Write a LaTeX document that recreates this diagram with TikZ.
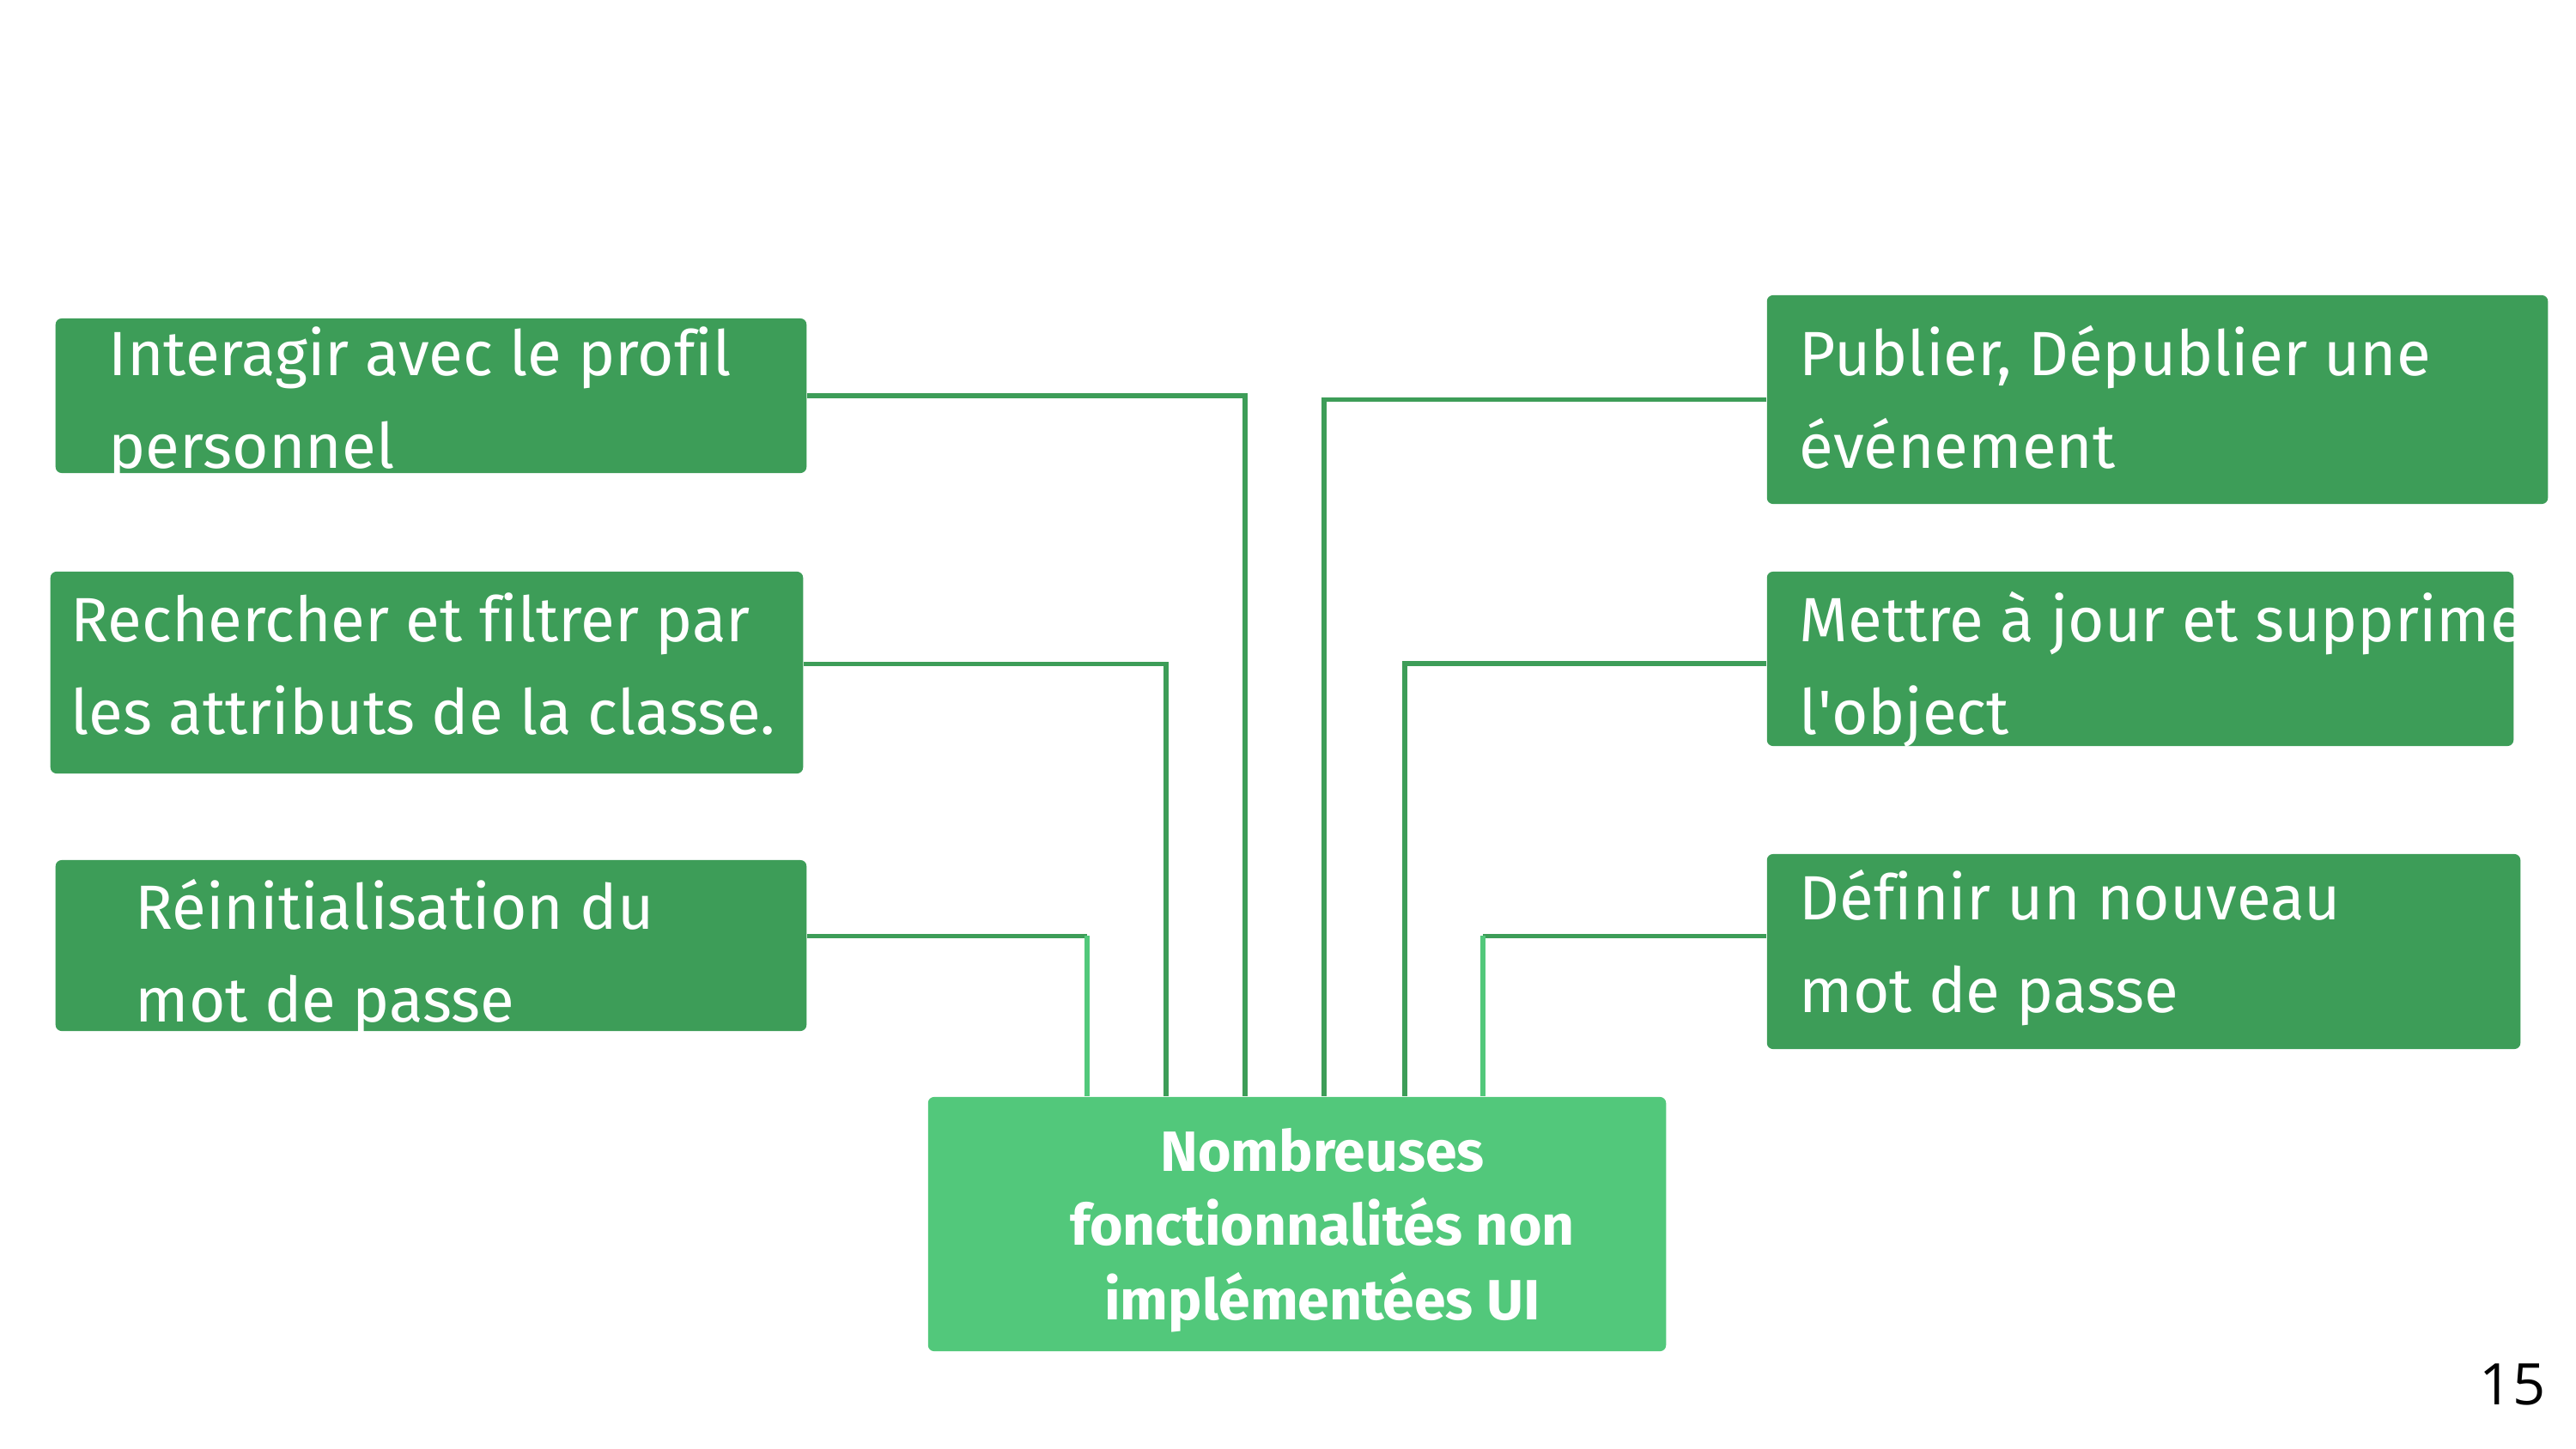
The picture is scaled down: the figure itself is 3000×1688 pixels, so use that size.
\documentclass[tikz,border=0pt]{standalone}
\usepackage{fontspec}
\setmainfont[Ligatures=NoCommon]{Fira Sans}
\newfontfamily\numfont{Open Sans}
\definecolor{darkg}{RGB}{61,157,88}
\definecolor{lightg}{RGB}{82,200,123}
\begin{document}
\begin{tikzpicture}[x=0.01cm,y=-0.01cm,
  boxd/.style={fill=darkg,draw=none,rounded corners=2pt,inner sep=0pt},
  boxl/.style={fill=lightg,draw=none,rounded corners=2pt,inner sep=0pt},
  lbl/.style={text=white,inner sep=0pt,anchor=base west,align=left,font=\fontsize{20.7}{30.5}\selectfont},
  clbl/.style={text=white,inner sep=0pt,anchor=base,align=center,font=\bfseries\fontsize{18.8}{24.5}\selectfont},
  conn/.style={draw=darkg,line width=1.5pt},
  connl/.style={draw=lightg,line width=1.5pt}]
\useasboundingbox[fill=white] (0,0) rectangle (3000,1688);
% boxes
\node[boxd,minimum width=8.74cm,minimum height=1.80cm] (L1) at (502,461) {};
\node[boxd,minimum width=8.76cm,minimum height=2.35cm] (L2) at (497,783.5) {};
\node[boxd,minimum width=8.74cm,minimum height=1.99cm] (L3) at (502,1101.5) {};
\node[boxd,minimum width=9.09cm,minimum height=2.43cm] (R1) at (2512.5,465.5) {};
\node[boxd,minimum width=8.69cm,minimum height=2.03cm] (R2) at (2492.5,767.5) {};
\node[boxd,minimum width=8.77cm,minimum height=2.27cm] (R3) at (2496.5,1108.5) {};
\node[boxl,minimum width=8.59cm,minimum height=2.96cm] (C) at (1510.5,1426) {};
% labels (anchored at the baseline of the last line)
\node[lbl] (tL1) at (126,545) {Interagir avec le profil\\personnel};
\node[lbl] (tL2) at (82,855) {Rechercher et filtrer par\\les attributs de la classe.};
\node[lbl] (tL3) at (157,1190) {Réinitialisation du\\mot de passe};
\node[lbl] (tR1) at (2095,545) {Publier, Dépublier une\\événement};
\begin{scope}
\clip (R2.south west) rectangle (R2.north east);
\node[lbl] (tR2) at (2095,855) {Mettre à jour et supprimer\\l\textquotesingle object};
\end{scope}
\node[lbl] (tR3) at (2095,1179) {Définir un nouveau\\mot de passe};
\node[clbl] (tC) at (1540,1537) {Nombreuses\\fonctionnalités non\\implémentées UI};
\node[inner sep=0pt,anchor=base east,font=\numfont\fontsize{19}{22}\selectfont] (pg) at (2965,1636) {15};
% connector x positions
\coordinate (xL3) at (1266,0);
\coordinate (xL2) at (1358,0);
\coordinate (xL1) at (1450,0);
\coordinate (xR1) at (1542,0);
\coordinate (xR2) at (1636,0);
\coordinate (xR3) at (1727,0);
\draw[conn] (L1.east) -| (xL1 |- C.north);
\draw[conn] ([yshift=2.8pt]L2.east) -| (xL2 |- C.north);
\draw[conn] ([yshift=3.2pt]L3.east) -- ([yshift=3.2pt]L3.east -| xL3);
\draw[connl] ([yshift=3.2pt]L3.east -| xL3) -- (xL3 |- C.north);
\draw[conn] (R1.west) -| (xR1 |- C.north);
\draw[conn] ([yshift=-1.6pt]R2.west) -| (xR2 |- C.north);
\draw[conn] ([yshift=5.2pt]R3.west) -- ([yshift=5.2pt]R3.west -| xR3);
\draw[connl] ([yshift=5.2pt]R3.west -| xR3) -- (xR3 |- C.north);
\end{tikzpicture}
\end{document}
